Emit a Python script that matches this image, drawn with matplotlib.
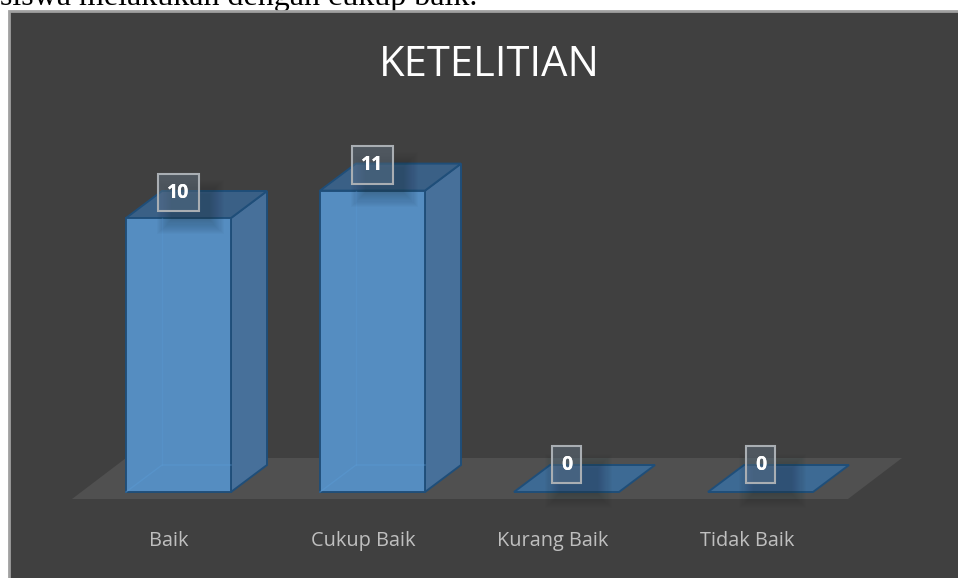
import matplotlib
matplotlib.use("Agg")
import matplotlib.pyplot as plt
from matplotlib.patches import Polygon, Rectangle

categories = ["Baik", "Cukup Baik", "Kurang Baik", "Tidak Baik"]
values = [10, 11, 0, 0]
title = "KETELITIAN"
page_text = "siswa melakukan dengan cukup baik."

W, H = 958, 578
BG = "#404040"
FLOOR = "#505050"
FRONT = "#5690c6"
SIDE = "#47709a"
TOP = "#3a6086"
EDGE = "#1f4e79"
INNER = "#5b9bd5"

fig = plt.figure(figsize=(W / 100, H / 100), dpi=100, facecolor="white")

# page text cut off by the screenshot, then the chart area with its grey frame
fig.text(0, 1 - 5 / H, page_text, family="Liberation Serif", fontsize=23,
         color="black", ha="left", va="baseline", zorder=-2)
fig.add_artist(Rectangle((8.5 / W, -0.01), 1.01, 1 - 10.5 / H + 0.01,
                         transform=fig.transFigure, facecolor=BG,
                         edgecolor="#a0a0a0", linewidth=2, zorder=-1))

# one x unit = one category, one y unit = one count
ax = fig.add_axes([0, 0, 1, 1])
px_x, px_y = 194.0, 27.4
ax.set_xlim(-178.5 / px_x, (W - 178.5) / px_x)
ax.set_ylim(-(H - 492) / px_y, 492 / px_y)
ax.axis("off")

half = 52.5 / px_x
dx, dy = 36 / px_x, 27 / px_y

# floor
ax.add_patch(Polygon([(-106.5 / px_x, -7 / px_y), (669.5 / px_x, -7 / px_y),
                      (723.5 / px_x, 34 / px_y), (-52.5 / px_x, 34 / px_y)],
                     facecolor=FLOOR, edgecolor="none", zorder=1))


def shadow(x0, y0, w, h, z):
    # soft shadow built from stacked faint rectangles
    for i in range(14):
        g = (14 - i) * 1.1
        ax.add_patch(Rectangle((x0 - g / px_x, y0 - g / px_y),
                               w + 2 * g / px_x, h + 2 * g / px_y,
                               facecolor="#1c2a38", edgecolor="none",
                               alpha=0.022, zorder=z))


for i, v in enumerate(values):
    l, r = i - half, i + half
    z = 2 + i
    if v > 0:
        # back faces seen through the glassy bar
        ax.add_patch(Polygon([(r, 0), (r + dx, dy), (r + dx, v + dy), (r, v)],
                             facecolor=SIDE, edgecolor=EDGE, lw=1.4, zorder=z))
        ax.add_patch(Polygon([(l, v), (r, v), (r + dx, v + dy), (l + dx, v + dy)],
                             facecolor=TOP, edgecolor=EDGE, lw=1.4, zorder=z))
        ax.add_patch(Rectangle((l, 0), r - l, v, facecolor=FRONT, alpha=0.97,
                               edgecolor=EDGE, lw=1.4, zorder=z + 0.2))
        ax.plot([l, l + dx, r], [0, dy, dy], color=INNER, lw=1, alpha=0.45, zorder=z + 0.3)
        ax.plot([l + dx, l + dx], [dy, v], color=INNER, lw=1, alpha=0.3, zorder=z + 0.3)
    else:
        ax.add_patch(Polygon([(l, 0), (r, 0), (r + dx, dy), (l + dx, dy)],
                             facecolor="#3d6a94", edgecolor=EDGE, lw=1.4, zorder=z))
    # shadow under the data label
    shadow(i - 6 / px_x, v - 1 / px_y, 36 / px_x, 24 / px_y, z + 0.4)
    lift = 25.5 if v > 0 else 27.5
    ax.text(i, v + lift / px_y, str(v), family="Open Sans", fontweight="bold",
            fontsize=14, color="white", ha="center", va="center", zorder=z + 0.6,
            bbox=dict(boxstyle="square,pad=0.46", facecolor="#6a7f94", alpha=0.38,
                      edgecolor="none"))
    ax.text(i, v + lift / px_y, str(v), family="Open Sans", fontweight="bold",
            fontsize=14, color="white", ha="center", va="center", zorder=z + 0.7,
            bbox=dict(boxstyle="square,pad=0.46", facecolor="none",
                      edgecolor="#a9aeb3", lw=1.5))
    # category label
    ax.text(i - 13.5 / px_x if i > 1 else i - 9.5 / px_x, -48.7 / px_y, categories[i],
            family="Open Sans", fontsize=14.3, color="#bfbfbf",
            ha="center", va="center", zorder=10)

fig.text(489 / W, 1 - 65 / H, title, family="Open Sans", fontsize=30, color="white",
         ha="center", va="center", zorder=20)

fig.savefig("out.png", dpi=100, facecolor="white")
